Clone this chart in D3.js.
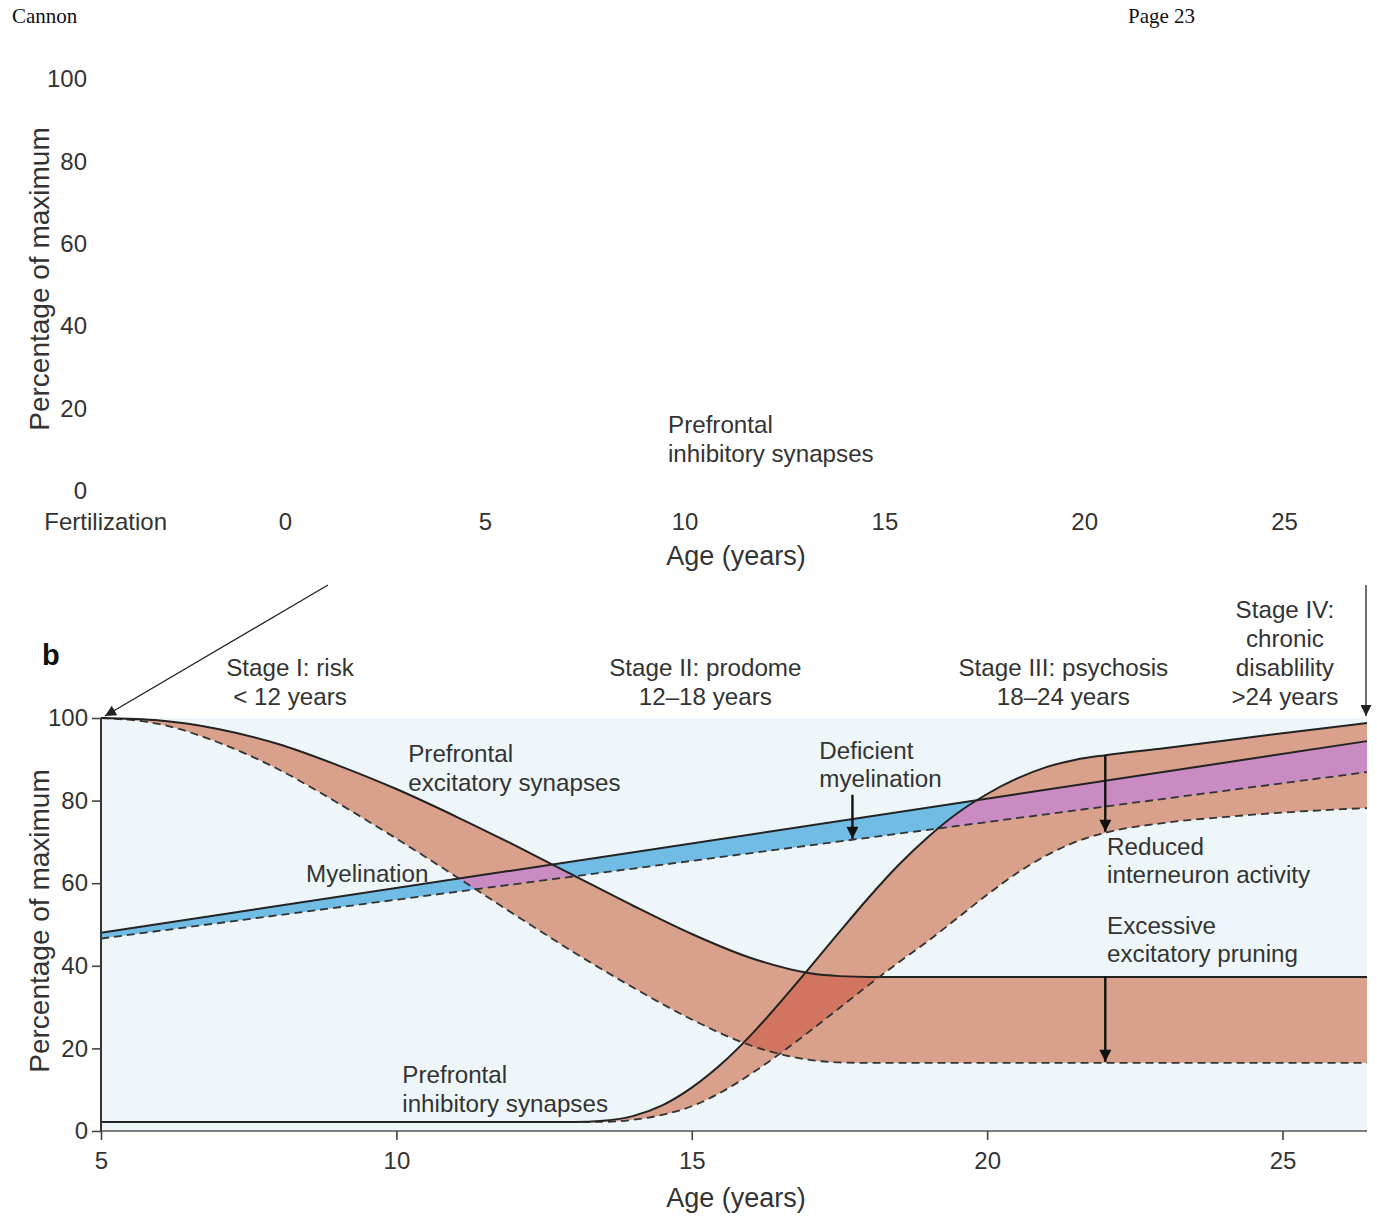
<!DOCTYPE html>
<html><head><meta charset="utf-8">
<script src="https://cdn.jsdelivr.net/npm/d3@7"></script>
<style>
html,body{margin:0;padding:0;background:#fff;}
svg text{font-family:"Liberation Sans",Arial,Helvetica,sans-serif;fill:#333;}
</style></head>
<body>
<svg id="chart" width="1377" height="1216"></svg>
<script>
// ---------- DATA ----------
// Panel a (empty axes)
const topAgeTicks = [-4.5, 0, 5, 10, 15, 20, 25];
const topAgeLabels = ["Fertilization", "0", "5", "10", "15", "20", "25"];
const pctTicks = [0, 20, 40, 60, 80, 100];

// Panel b
const ageTicks = [5, 10, 15, 20, 25];
const ageDomain = [5, 26.43];

const ageExc = [5, 6, 7, 8, 9, 10, 11, 12, 13, 14, 15, 16, 17, 17.5, 18, 20, 22, 24, 26.43];
const excNormal = [100, 99.4, 97.3, 93.7, 88.6, 82.8, 76.2, 69.2, 61.9, 54.6, 47.7, 41.9, 38.2, 37.5, 37.3, 37.3, 37.3, 37.3, 37.3];
const excPruned = [100, 98.5, 94.0, 87.6, 79.5, 70.8, 61.7, 52.4, 43.3, 34.8, 27.0, 20.7, 17.2, 16.6, 16.5, 16.5, 16.5, 16.5, 16.5];

const ageInh = [5, 13, 13.5, 14, 14.5, 15, 15.5, 16, 16.5, 17, 17.5, 18, 18.5, 19, 19.5, 20, 20.5, 21, 21.5, 22, 23, 24, 25, 26.43];
const inhNormal = [2.2, 2.2, 2.5, 3.6, 6.2, 10.5, 16.2, 23.2, 31.2, 39.6, 48.2, 56.6, 64.4, 71.2, 77.0, 81.6, 85.3, 88.1, 89.9, 91.0, 92.7, 94.5, 96.3, 98.8];
const inhReduced = [2.2, 2.2, 2.2, 2.7, 3.9, 6.0, 9.4, 13.8, 18.8, 24.2, 29.8, 35.4, 40.8, 46.0, 51.6, 57.2, 62.4, 66.7, 70.0, 72.2, 74.6, 76.0, 77.1, 78.2];

const ageMye = [5, 26.43];
const myeNormal = [48.0, 94.4];
const myeDeficient = [46.6, 86.9];

const stageLabels = [
  {age: 8.2, lines: ["Stage I: risk", "< 12 years"]},
  {age: 15.23, lines: ["Stage II: prodome", "12\u201318 years"]},
  {age: 21.29, lines: ["Stage III: psychosis", "18\u201324 years"]},
  {age: 25.04, lines: ["Stage IV:", "chronic", "disablility", ">24 years"]}
];
const notes = [
  {age: 10.2, v: 91.3, lines: ["Prefrontal", "excitatory synapses"]},
  {age: 8.47, v: 62.3, lines: ["Myelination"]},
  {age: 17.16, v: 92.2, lines: ["Deficient", "myelination"]},
  {age: 22.03, v: 68.9, lines: ["Reduced", "interneuron activity"]},
  {age: 22.03, v: 49.8, lines: ["Excessive", "excitatory pruning"]},
  {age: 10.1, v: 13.6, lines: ["Prefrontal", "inhibitory synapses"]}
];
const arrowDefAge = 17.72, arrowDefTop = 81.4;
const arrowAge = 22;

// ---------- COLORS ----------
const C = {bg:"#eef6f9", salmon:"#d9a08b", dark:"#d27560", blue:"#70bce5", purple:"#c98bc2", line:"#222"};
const FS = "24.2px";

const svg = d3.select("#chart");

// header
svg.append("text").attr("x",12).attr("y",23).style("font-family","'Liberation Serif','Times New Roman',serif").style("font-size","21px").style("fill","#111").text("Cannon");
svg.append("text").attr("x",1128).attr("y",23).style("font-family","'Liberation Serif','Times New Roman',serif").style("font-size","21px").style("fill","#111").text("Page 23");

// ---------- PANEL A ----------
const xa = d3.scaleLinear().domain([0,25]).range([285,1284]);
const ya = d3.scaleLinear().domain([0,100]).range([491,79]);
const gax = svg.append("g").attr("transform","translate(0,522)")
  .call(d3.axisBottom(xa).tickValues(topAgeTicks).tickSize(0).tickFormat((d,i)=>topAgeLabels[i]));
gax.select(".domain").remove();
gax.selectAll("text").attr("y",0).attr("dy","0.35em").style("font-size","24px").style("font-family","'Liberation Sans',Arial,sans-serif").attr("fill","#333");
const gay = svg.append("g").attr("transform","translate(90,0)")
  .call(d3.axisLeft(ya).tickValues(pctTicks).tickSize(0).tickPadding(3));
gay.select(".domain").remove();
gay.selectAll("text").style("font-size","24px").style("font-family","'Liberation Sans',Arial,sans-serif").attr("fill","#333");
svg.append("text").attr("transform","translate(39,279) rotate(-90)").attr("text-anchor","middle").attr("dominant-baseline","central").style("font-size","28px").text("Percentage of maximum");
svg.append("text").attr("x",736).attr("y",556).attr("text-anchor","middle").attr("dominant-baseline","central").style("font-size","27px").text("Age (years)");
[["Prefrontal",424],["inhibitory synapses",453]].forEach(([t,y])=>{
  svg.append("text").attr("x",668).attr("y",y).attr("dominant-baseline","central").style("font-size",FS).text(t);
});

// ---------- PANEL B ----------
const x = d3.scaleLinear().domain(ageDomain).range([101,1367]);
const y = d3.scaleLinear().domain([0,100]).range([1131,718]);

const defs = svg.append("defs");
function marker(id, w, h, color){
  defs.append("marker").attr("id",id).attr("viewBox","0 0 10 10").attr("refX",10).attr("refY",5)
    .attr("markerWidth",w).attr("markerHeight",h).attr("markerUnits","userSpaceOnUse").attr("orient","auto")
    .append("path").attr("d","M0,0 L10,5 L0,10 Z").attr("fill",color);
}
marker("ahThin",16,11,"#222");
marker("ahThick",17,12,"#111");

svg.append("text").attr("x",42).attr("y",655).attr("dominant-baseline","central").style("font-size","29px").style("font-weight","bold").style("fill","#111").text("b");

// outside arrows
svg.append("line").attr("x1",328).attr("y1",585).attr("x2",x(5)+4).attr("y2",y(100)-2).attr("stroke","#222").attr("stroke-width",1.3).attr("marker-end","url(#ahThin)");
svg.append("line").attr("x1",x(26.43)-1).attr("y1",585).attr("x2",x(26.43)-1).attr("y2",y(100)-2).attr("stroke","#222").attr("stroke-width",1.3).attr("marker-end","url(#ahThin)");

// background
svg.append("rect").attr("x",x(5)).attr("y",y(100)).attr("width",x(26.43)-x(5)).attr("height",y(0)-y(100)).attr("fill",C.bg);

const zipRows = (a,b,c)=>a.map((t,i)=>({a:t,hi:b[i],lo:c[i]}));
const excRows = zipRows(ageExc, excNormal, excPruned);
const inhRows = zipRows(ageInh, inhNormal, inhReduced);
const myeRows = zipRows(ageMye, myeNormal, myeDeficient);

const curve = d3.curveMonotoneX;
const area = d3.area().x(d=>x(d.a)).y0(d=>y(d.lo)).y1(d=>y(d.hi)).curve(curve);
const lineHi = d3.line().x(d=>x(d.a)).y(d=>y(d.hi)).curve(curve);
const lineLo = d3.line().x(d=>x(d.a)).y(d=>y(d.lo)).curve(curve);

defs.append("clipPath").attr("id","clipExc").append("path").attr("d",area(excRows));
defs.append("clipPath").attr("id","clipInh").append("path").attr("d",area(inhRows));

const g = svg.append("g");
g.append("path").attr("d",area(excRows)).attr("fill",C.salmon);
g.append("path").attr("d",area(inhRows)).attr("fill",C.salmon);
g.append("path").attr("d",area(excRows)).attr("fill",C.dark).attr("clip-path","url(#clipInh)");
g.append("path").attr("d",area(myeRows)).attr("fill",C.blue);
g.append("path").attr("d",area(myeRows)).attr("fill",C.purple).attr("clip-path","url(#clipExc)");
g.append("path").attr("d",area(myeRows)).attr("fill",C.purple).attr("clip-path","url(#clipInh)");

[excRows, inhRows, myeRows].forEach(rows=>{
  g.append("path").attr("d",lineLo(rows)).attr("fill","none").attr("stroke","#333").attr("stroke-width",1.8).attr("stroke-dasharray","8,5");
  g.append("path").attr("d",lineHi(rows)).attr("fill","none").attr("stroke",C.line).attr("stroke-width",2);
});

// interpolation helper
function interp(ages, vals, a){
  const i = d3.bisectRight(ages, a) - 1;
  if (i >= ages.length-1) return vals[vals.length-1];
  const t = (a-ages[i])/(ages[i+1]-ages[i]);
  return vals[i] + t*(vals[i+1]-vals[i]);
}
function vArrow(age, v1, v2){
  g.append("line").attr("x1",x(age)).attr("x2",x(age)).attr("y1",y(v1)).attr("y2",y(v2)-1)
    .attr("stroke","#111").attr("stroke-width",2.4).attr("marker-end","url(#ahThick)");
}
vArrow(arrowDefAge, arrowDefTop, interp(ageMye, myeDeficient, arrowDefAge));
vArrow(arrowAge, interp(ageInh, inhNormal, arrowAge), interp(ageInh, inhReduced, arrowAge));
vArrow(arrowAge, interp(ageExc, excNormal, arrowAge), interp(ageExc, excPruned, arrowAge));

// axes
const gx = svg.append("g").attr("transform",`translate(0,${y(0)})`)
  .call(d3.axisBottom(x).tickValues(ageTicks).tickSize(9).tickPadding(10).tickFormat(d3.format("d")));
gx.select(".domain").attr("stroke","#555").attr("stroke-width",1.6).attr("d",`M${x(5)},0H${x(26.43)}`);
gx.selectAll(".tick line").attr("stroke","#444").attr("stroke-width",1.6);
gx.selectAll("text").attr("y",30).attr("dy","0.35em").style("font-size","24px").style("font-family","'Liberation Sans',Arial,sans-serif").attr("fill","#333");

const gy = svg.append("g").attr("transform",`translate(${x(5)},0)`)
  .call(d3.axisLeft(y).tickValues(pctTicks).tickSize(9).tickPadding(4));
gy.select(".domain").attr("stroke","#333").attr("stroke-width",2).attr("d",`M0,${y(0)}V${y(100)}`);
gy.selectAll(".tick line").attr("stroke","#444").attr("stroke-width",1.6);
gy.selectAll("text").style("font-size","24px").style("font-family","'Liberation Sans',Arial,sans-serif").attr("fill","#333");

svg.append("text").attr("transform","translate(39,921) rotate(-90)").attr("text-anchor","middle").attr("dominant-baseline","central").style("font-size","28px").text("Percentage of maximum");
svg.append("text").attr("x",736).attr("y",1198).attr("text-anchor","middle").attr("dominant-baseline","central").style("font-size","27px").text("Age (years)");

// stage labels
stageLabels.forEach(s=>{
  const n = s.lines.length;
  s.lines.forEach((t,i)=>{
    svg.append("text").attr("x",x(s.age)).attr("y",696 - (n-1-i)*29).attr("text-anchor","middle")
      .attr("dominant-baseline","central").style("font-size",FS).text(t);
  });
});
// notes
notes.forEach(nt=>{
  nt.lines.forEach((t,i)=>{
    svg.append("text").attr("x",x(nt.age)).attr("y",y(nt.v)+i*28.5).attr("dominant-baseline","central")
      .style("font-size",FS).text(t);
  });
});
</script>
</body></html>
